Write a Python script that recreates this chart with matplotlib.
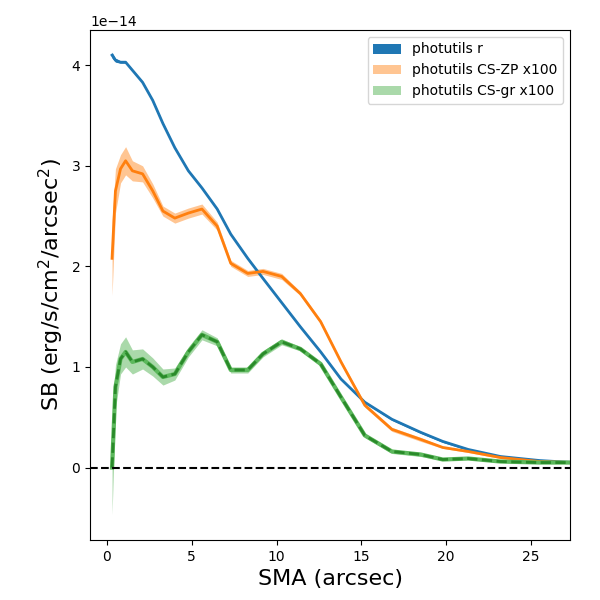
import numpy as np
import matplotlib
matplotlib.use('Agg')
import matplotlib.pyplot as plt

# profile radii (arcsec)
sma = [0.3, 0.5, 0.8, 1.1, 1.5, 2.1, 2.7, 3.3, 4.0, 4.8, 5.6, 6.5, 7.3, 8.3, 9.2,
       10.3, 11.4, 12.6, 13.8, 15.2, 16.8, 18.5, 19.8, 21.3, 23.2, 25.5, 27.5]

# surface brightness in units of 1e-14
sb_r = [4.10, 4.05, 4.03, 4.03, 3.95, 3.83, 3.65, 3.42, 3.18, 2.95, 2.78, 2.57, 2.32,
        2.08, 1.88, 1.64, 1.40, 1.15, 0.88, 0.65, 0.48, 0.35, 0.26, 0.18, 0.11, 0.07, 0.05]
err_r = [0.03, 0.02, 0.01, 0.01, 0.01, 0.01, 0.01, 0.01, 0.01, 0.01, 0.01, 0.01, 0.01,
         0.01, 0.01, 0.01, 0.01, 0.01, 0.01, 0.01, 0.01, 0.01, 0.01, 0.01, 0.01, 0.01, 0.01]

sb_zp = [2.08, 2.75, 2.97, 3.05, 2.95, 2.92, 2.75, 2.55, 2.48, 2.53, 2.57, 2.40, 2.03,
         1.93, 1.95, 1.90, 1.73, 1.45, 1.05, 0.62, 0.38, 0.28, 0.20, 0.16, 0.10, 0.06, 0.05]
err_zp = [0.37, 0.22, 0.14, 0.14, 0.10, 0.08, 0.07, 0.05, 0.05, 0.05, 0.05, 0.04, 0.03,
          0.03, 0.03, 0.03, 0.02, 0.02, 0.02, 0.02, 0.02, 0.02, 0.01, 0.01, 0.01, 0.01, 0.01]

sb_gr = [0.00, 0.80, 1.08, 1.15, 1.05, 1.08, 1.00, 0.90, 0.93, 1.15, 1.32, 1.25, 0.97,
         0.97, 1.13, 1.25, 1.18, 1.03, 0.70, 0.32, 0.16, 0.13, 0.08, 0.09, 0.06, 0.05, 0.05]
err_gr = [0.47, 0.22, 0.15, 0.15, 0.12, 0.10, 0.09, 0.08, 0.06, 0.05, 0.05, 0.04, 0.03,
          0.03, 0.03, 0.03, 0.02, 0.02, 0.02, 0.02, 0.02, 0.02, 0.01, 0.01, 0.01, 0.01, 0.01]

scale = 1e-14
x = np.array(sma)

fig, ax = plt.subplots(figsize=(6, 6), dpi=100)

series = [
    (sb_r, err_r, 'tab:blue', 1.0, 'photutils r', '-'),
    (sb_zp, err_zp, 'tab:orange', 0.45, 'photutils CS-ZP x100', '-'),
    (sb_gr, err_gr, 'tab:green', 0.4, 'photutils CS-gr x100', '--'),
]
for vals, errs, col, alpha, lab, ls in series:
    v = np.array(vals) * scale
    e = np.array(errs) * scale
    ax.fill_between(x, v - e, v + e, color=col, alpha=alpha, label=lab, lw=0)
    if ls == '--':
        ax.plot(x, v, color='#5cb85c', lw=3)
        ax.plot(x, v, color='#2a8a2a', lw=2, ls='--')
    else:
        ax.plot(x, v, color=col, lw=2)

ax.axhline(0, color='k', ls='--', lw=1.5)
ax.set_xlim(-1, 27.3)
ax.set_ylim(-0.72e-14, 4.35e-14)
ax.set_xlabel('SMA (arcsec)', fontsize=16)
ax.set_ylabel(r'SB (erg/s/cm$^2$/arcsec$^2$)', fontsize=16)
ax.legend(loc='upper right')

plt.subplots_adjust(left=0.15, right=0.95, top=0.95, bottom=0.1)
plt.savefig('out.png')
